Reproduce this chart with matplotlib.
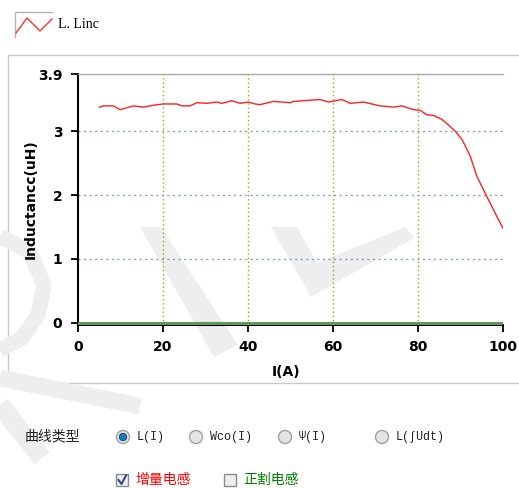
import numpy as np
import matplotlib
matplotlib.use("Agg")
import matplotlib.pyplot as plt
from matplotlib.patches import Polygon, Circle, Rectangle

plt.rcParams['font.family'] = ['DejaVu Sans', 'Noto Sans CJK SC']

# incremental inductance L(I)
current = [5.1, 6, 8.4, 10, 13.1, 15.4, 17.8, 20.1, 23.3, 24.5, 26.4, 28, 30.4,
           32.7, 33.9, 36.2, 38.2, 40.1, 41.7, 42.9, 46, 50, 50.7, 57, 59, 62.1,
           64.1, 67.2, 71.1, 74.3, 76.2, 79, 80.5, 82.1, 83.7, 85.6, 87.2, 88.8,
           90.4, 92.3, 93.9, 96.2, 98.6, 100]
inductance = [3.38, 3.40, 3.40, 3.34, 3.40, 3.38, 3.41, 3.43, 3.43, 3.40, 3.40,
              3.45, 3.44, 3.46, 3.44, 3.48, 3.44, 3.46, 3.43, 3.42, 3.47, 3.45,
              3.47, 3.50, 3.46, 3.50, 3.44, 3.46, 3.40, 3.38, 3.40, 3.34, 3.33,
              3.26, 3.25, 3.19, 3.10, 3.00, 2.87, 2.61, 2.29, 1.98, 1.66, 1.48]
# secant inductance (flat at zero)
secant_x = [0, 100]
secant_y = [0, 0]

xticks = [0, 20, 40, 60, 80, 100]
yticks = [0, 1, 2, 3, 3.9]
grid_x = [20, 40, 60, 80]
grid_y = [1, 2, 3]

radio_labels = ['L(I)', 'Wco(I)', 'Ψ(I)', 'L(∫Udt)']
check_labels = ['增量电感', '正割电感']

W, H = 519, 488
fig = plt.figure(figsize=(W / 100, H / 100), dpi=100)

# background layer in pixel coords (y down)
bg = fig.add_axes([0, 0, 1, 1], zorder=0)
bg.set_xlim(0, W)
bg.set_ylim(H, 0)
bg.axis('off')

# watermark
wm = '#eeeeee'
bg.add_patch(Polygon([(140, 227), (161, 227), (238, 345), (214, 357)], closed=True, fc=wm, ec='none'))
bg.add_patch(Polygon([(271, 227), (297, 227), (317, 263), (405, 227), (414, 238), (311, 297)],
                     closed=True, fc=wm, ec='none'))
bg.plot([0, 30, 44, 38, 22, 0], [236, 252, 285, 315, 338, 350], color=wm, lw=11, solid_capstyle='butt')
bg.plot([0, 140], [378, 406], color=wm, lw=12, solid_capstyle='butt')
bg.plot([0, 42], [405, 458], color=wm, lw=14, solid_capstyle='butt')

# panel border
bg.add_patch(Rectangle((8, 55), 530, 328, fc='none', ec='#c8c8c8', lw=1))

# top legend
bg.plot([15, 15, 52], [37, 12, 12], color='#b4b4b4', lw=1)
bg.plot([16, 27, 40, 52], [33, 18, 31, 19], color='#ff3030', lw=1)
bg.text(58, 25, 'L. Linc', fontsize=10, family='Liberation Serif', va='center', ha='left')

# curve type radio buttons
bg.text(25, 436, '曲线类型', fontsize=10, family=['Noto Sans CJK SC', 'DejaVu Sans'],
        va='center', ha='left', color='#202020')
radio_x = [123, 196, 285, 382]
for i, (rx, lab) in enumerate(zip(radio_x, radio_labels)):
    bg.add_patch(Circle((rx, 437), 6.5, fc='#e4e4e4', ec='#a0a0a0', lw=1))
    if i == 0:
        bg.add_patch(Circle((rx, 437), 3.7, fc='#1f78b4', ec='#0b3f66', lw=0.6))
    bg.text(rx + 14, 437, lab, fontsize=8.5, family=['Liberation Mono', 'DejaVu Sans Mono'],
            va='center', ha='left', color='#202020')

# inductance type check boxes
check_x = [122, 230]
check_colors = ['#ff0000', '#008000']
for i, (cx, lab, col) in enumerate(zip(check_x, check_labels, check_colors)):
    bg.add_patch(Rectangle((cx - 6, 474), 12, 12, fc='#eeeeee', ec='#8a8a8a', lw=1))
    if i == 0:
        bg.plot([cx - 3.5, cx - 0.5, cx + 4], [480, 484, 475.5], color='#34489a', lw=1.5)
    bg.text(cx + 13, 480, lab, fontsize=10, family=['Noto Sans CJK SC', 'DejaVu Sans'],
            va='center', ha='left', color=col)

# main chart
x0, x1 = 77.7, 503.0
ylo, yhi = -0.03, 3.9
py_top = 74.0
py_bot = 322.7 + 0.03 * 63.7
ax = fig.add_axes([x0 / W, (H - py_bot) / H, (x1 - x0) / W, (py_bot - py_top) / H], zorder=1)
ax.patch.set_alpha(0)

ax.vlines(grid_x, ylo, yhi, colors='#a0a020', linestyles=(0, (1, 2)), lw=1)
ax.hlines(grid_y, 0, 100, colors='#8c9bb0', linestyles=(0, (1.5, 2.5)), lw=1)

ax.plot(secant_x, secant_y, color='#5c9a5c', lw=2.2, zorder=3)
ax.plot(current, inductance, color='#ff2020', lw=1, zorder=4)

ax.set_xlim(0, 100)
ax.set_ylim(ylo, yhi)
ax.set_xticks(xticks)
ax.set_yticks(yticks)
ax.set_yticklabels(['0', '1', '2', '3', '3.9'])
ax.tick_params(axis='both', length=5, width=1.3, labelsize=10, pad=6)
for lab in ax.get_xticklabels() + ax.get_yticklabels():
    lab.set_fontweight('bold')

ax.spines['right'].set_visible(False)
ax.spines['top'].set_color('#a8a8a8')
ax.spines['top'].set_linewidth(1)
ax.spines['left'].set_linewidth(1.5)
ax.spines['bottom'].set_linewidth(1.5)

ax.set_xlabel('I(A)', fontsize=10, fontweight='bold')
ax.set_ylabel('Inductancc(uH)', fontsize=10, fontweight='bold')
ax.xaxis.set_label_coords(0.49, -0.161)
ax.yaxis.set_label_coords(-0.095, 0.5)

fig.savefig('out.png', dpi=100)
